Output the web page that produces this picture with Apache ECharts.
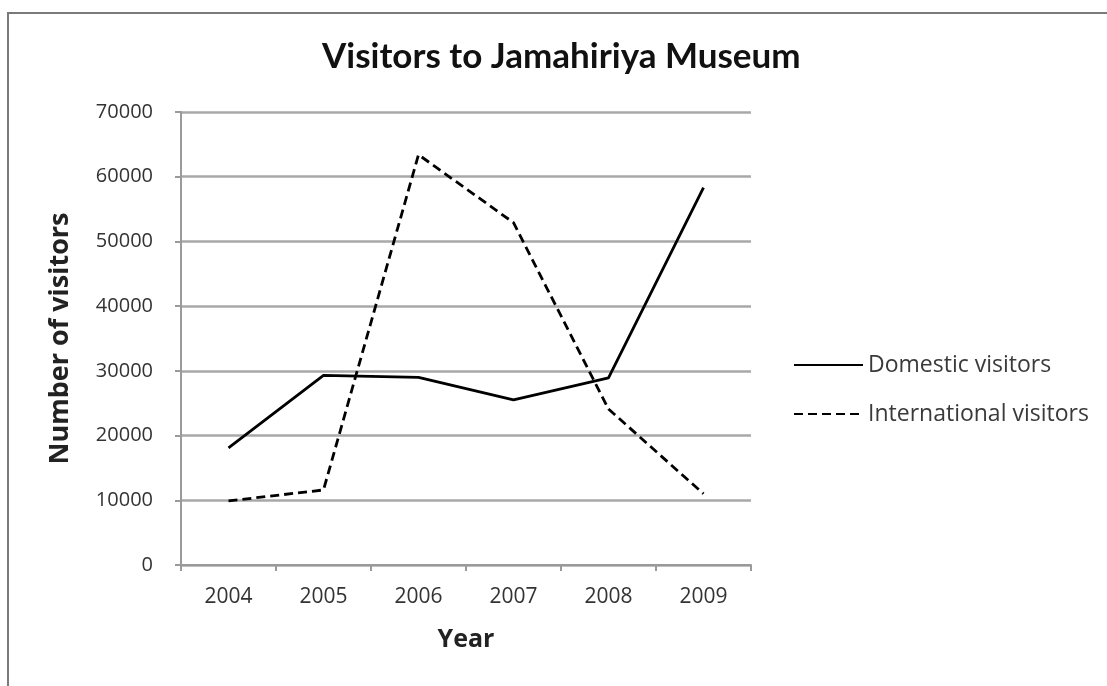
<!DOCTYPE html>
<html>
<head>
<meta charset="utf-8">
<script src="https://cdn.jsdelivr.net/npm/echarts@6/dist/echarts.min.js"></script>
<style>
  html, body { margin: 0; padding: 0; background: #fff; }
  #chart { width: 1107px; height: 686px; }
</style>
</head>
<body>
<div id="chart"></div>
<script>
const years = ['2004', '2005', '2006', '2007', '2008', '2009'];
const domesticVisitors = [18100, 29300, 29000, 25500, 28900, 58300];
const internationalVisitors = [9900, 11600, 63400, 52900, 24100, 11000];
const yTicks = { min: 0, max: 70000, interval: 10000 };

const chart = echarts.init(document.getElementById('chart'), null, { renderer: 'canvas' });
const titleFont = 'Lato, "Open Sans", sans-serif';
const font = '"Open Sans", Lato, sans-serif';

const option = {
    animation: false,
    backgroundColor: '#fff',
    graphic: [
        {
            type: 'rect',
            shape: { x: 8, y: 13, width: 1200, height: 800 },
            style: { fill: 'none', stroke: '#7a7a7a', lineWidth: 2 },
            silent: true
        }
    ],
    title: {
        text: 'Visitors to Jamahiriya Museum',
        left: 322,
        top: 39,
        padding: 0,
        textStyle: { fontFamily: titleFont, fontWeight: 'bold', fontSize: 35, color: '#111' }
    },
    legend: {
        orient: 'vertical',
        left: 793,
        top: 353,
        padding: 0,
        itemWidth: 69,
        itemHeight: 24,
        itemGap: 25,
        itemStyle: { opacity: 0 },
        textStyle: { fontFamily: font, fontSize: 23, color: '#3a3a3a', lineHeight: 24 },
        data: ['Domestic visitors', 'International visitors']
    },
    grid: { left: 181, right: 356, top: 112, bottom: 121 },
    xAxis: {
        type: 'category',
        data: years,
        boundaryGap: true,
        name: 'Year',
        nameLocation: 'middle',
        nameGap: 62,
        nameTextStyle: { fontFamily: font, fontWeight: 'bold', fontSize: 25, color: '#222' },
        axisLine: { lineStyle: { color: '#9a9a9a', width: 2 } },
        axisTick: { show: true, length: 6, alignWithLabel: false, lineStyle: { color: '#9a9a9a', width: 2 } },
        axisLabel: { fontFamily: font, fontSize: 21, color: '#333', margin: 22 }
    },
    yAxis: {
        type: 'value',
        min: yTicks.min,
        max: yTicks.max,
        interval: yTicks.interval,
        name: 'Number of visitors',
        nameLocation: 'middle',
        nameRotate: 90,
        nameGap: 107,
        nameTextStyle: { fontFamily: font, fontWeight: 'bold', fontSize: 27, color: '#222' },
        axisLine: { show: true, lineStyle: { color: '#9a9a9a', width: 2 } },
        axisTick: { show: true, length: 6, lineStyle: { color: '#9a9a9a', width: 2 } },
        axisLabel: {
            fontFamily: font, fontSize: 20, color: '#333', margin: 28,
            formatter: (v) => String(v)
        },
        splitLine: { lineStyle: { color: '#a8a8a8', width: 2.5 } }
    },
    series: [
        {
            name: 'Domestic visitors',
            type: 'line',
            data: domesticVisitors,
            symbol: 'none',
            lineStyle: { color: '#000', width: 2.8, type: 'solid' },
            itemStyle: { color: '#000' }
        },
        {
            name: 'International visitors',
            type: 'line',
            data: internationalVisitors,
            symbol: 'none',
            lineStyle: { color: '#000', width: 2.8, type: [9, 5] },
            itemStyle: { color: '#000' }
        }
    ]
};

chart.setOption(option);
</script>
</body>
</html>
